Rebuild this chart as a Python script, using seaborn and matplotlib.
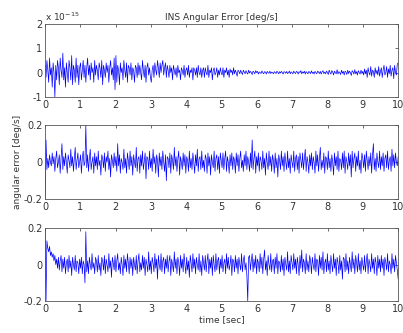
import numpy as np
import matplotlib
matplotlib.use("Agg")
import matplotlib.pyplot as plt
import seaborn as sns

# INS angular error, top panel (units of 1e-15 deg/s)
ins_err_e15 = [
    .3,-.2,.5,.1,-.4,.6,-.1,.2,-.6,.4,.0,-1.0,.3,-.3,.5,.2,-.5,.6,.1,-.2,
    .8,-.3,.2,-.6,.4,.0,-.4,.5,.2,-.3,.7,-.5,.3,.1,-.4,.6,-.2,.3,-.5,.2,
    .4,-.3,.1,.5,-.2,.3,-.4,.2,.6,-.1,.3,-.3,.4,.0,.2,-.4,.5,-.1,.3,.1,
    -.3,.4,.2,-.2,.5,-.5,.3,.1,-.2,.4,.0,.3,-.4,.2,.5,-.1,.2,-.3,.6,-.7,
    .7,-.4,.3,.1,-.5,.4,.0,.2,-.3,.5,.1,-.2,.4,-.4,.3,.2,-.1,.4,-.3,.2,
    .1,-.4,.3,.2,-.2,.4,-.1,.3,.0,-.3,.5,.1,-.2,.3,-.4,.2,.4,-.1,.2,-.2,
    -.4,.1,.3,-.2,.4,.1,-.1,.5,.2,-.2,.4,.0,.3,.5,-.1,.2,.4,-.2,.3,.1,
    -.2,.3,.0,.2,-.3,.3,.1,-.1,.2,-.2,.3,.0,.1,-.3,.2,.1,-.1,.3,-.2,.1,
    .2,-.1,.3,-.2,.1,.0,.2,-.3,.2,.1,-.1,.2,-.2,.3,.0,-.1,.2,-.2,.1,.2,
    -.2,.2,.0,-.1,.3,-.2,.1,.0,.2,-.3,.1,.2,-.1,.0,.2,-.2,.1,-.1,.2,.0,
    -.1,.2,-.2,.1,.0,.2,-.1,.1,-.2,.15,.0,.1,-.1,.2,-.05,.1,.0,-.15,.1,.05,
    -.05,.1,.0,-.08,.1,.02,-.05,.08,.0,-.06,.1,-.02,.05,.0,-.08,.06,.02,-.05,.08,.0,
    .05,-.06,.03,.0,-.04,.07,.0,-.05,.04,.02,-.06,.05,.0,-.03,.06,-.04,.02,.0,-.05,.04,
    .0,-.04,.06,.01,-.05,.04,-.02,.05,.0,-.06,.04,.02,-.03,.05,-.04,.0,.06,-.05,.03,.0,
    -.05,.06,.0,-.04,.05,.02,-.06,.04,.0,.08,-.05,.03,-.02,.06,-.06,.04,.0,-.05,.05,.01,
    -.04,.07,-.03,.02,-.06,.05,.0,-.05,.06,.02,-.04,.05,-.06,.03,.08,-.04,.02,-.05,.06,.0,
    -.08,.1,.0,-.06,.08,.03,-.1,.06,.0,-.05,.12,-.06,.04,.0,-.08,.1,-.03,.05,-.1,.06,
    .02,-.08,.1,-.04,.06,.0,-.12,.08,.03,-.06,.12,-.05,.04,-.1,.08,.0,-.06,.1,-.04,.05,
    -.1,.15,-.05,.1,-.2,.2,.0,-.1,.25,-.15,.1,.05,-.2,.2,-.05,.1,-.1,.25,-.15,.05,
    .2,-.2,.1,.3,-.1,.0,.25,-.2,.15,-.05,.3,-.15,.1,.2,-.25,.3,.0,-.1,.35,.4,
]

# middle panel (deg/s)
ang_err_mid = [
    -.2,.12,-.04,.02,-.03,.04,.0,-.02,.05,-.01,.03,-.05,.02,.06,-.03,.0,.04,-.06,.02,.1,
    -.04,.03,-.02,.05,.0,-.06,.04,.01,-.03,.07,-.02,.03,-.05,.02,.08,-.04,.01,.05,-.03,.0,
    .04,-.06,.02,.06,-.02,.0,.2,-.03,.04,-.05,.02,.07,-.04,.0,.03,-.06,.05,-.02,.03,-.04,
    .06,-.02,.01,-.07,.04,.02,-.03,.05,-.05,.03,.0,.06,-.04,.02,-.08,.04,.01,-.03,.05,-.02,
    .03,-.05,.1,-.02,.04,-.06,.02,.0,-.04,.07,-.03,.02,-.06,.05,.01,-.04,.06,-.02,.03,-.07,
    .04,.0,-.03,.08,-.05,.02,.03,-.06,.04,-.02,.06,-.04,.0,.05,-.09,.03,.02,-.04,.06,-.03,
    .02,-.05,.07,-.01,.03,-.06,.04,.01,-.08,.05,-.02,.03,-.04,.06,.0,-.05,.04,-.1,.03,.02,
    -.03,.05,-.06,.04,.01,-.04,.08,-.02,.03,-.05,.02,.06,-.07,.03,.0,-.04,.05,-.02,.04,-.06,
    .03,.01,-.05,.06,-.03,.02,-.04,.05,.0,-.06,.04,-.02,.07,-.05,.02,.03,-.04,.06,-.03,.01,
    -.05,.04,.02,-.06,.05,-.02,.03,-.07,.04,.0,-.03,.06,-.05,.02,.04,-.04,.03,-.06,.05,.01,
    -.03,.05,-.04,.02,.06,-.05,.03,.0,-.06,.04,-.02,.05,-.04,.03,.01,-.06,.05,-.02,.04,-.05,
    .02,.06,-.03,.01,-.05,.04,-.02,.06,-.04,.03,.0,-.05,.05,-.03,.12,-.04,.02,.06,-.06,.03,
    -.02,.05,-.05,.03,.01,-.04,.06,-.03,.02,-.07,.05,.0,-.04,.06,-.02,.03,-.05,.04,.01,-.06,
    .05,-.03,.02,-.08,.04,.01,-.04,.06,-.02,.03,-.05,.05,.0,-.04,.06,-.03,.02,-.06,.04,.0,
    -.03,.06,-.05,.02,.04,-.04,.03,-.06,.05,.01,-.03,.05,-.04,.02,.07,-.05,.03,.0,-.06,.04,
    -.02,.05,-.04,.03,.0,-.06,.06,-.02,.04,-.05,.02,.08,-.04,.01,-.03,.05,-.06,.03,.02,-.04,
    .06,-.03,.02,-.05,.04,.0,-.07,.05,-.02,.03,-.04,.06,-.05,.02,.01,-.04,.05,-.03,.06,-.06,
    .03,.0,-.04,.05,-.02,.04,-.08,.06,-.03,.02,.05,-.05,.03,-.02,.06,-.04,.01,-.06,.05,.02,
    -.03,.04,-.05,.06,.01,-.04,.03,-.02,.05,-.06,.04,.1,-.04,.02,-.05,.05,.0,-.03,.06,-.04,
    .03,-.02,.05,-.05,.02,.04,-.03,.06,-.04,.01,.03,-.05,.07,-.02,.04,-.03,.05,.0,-.02,.03,
]

# bottom panel (deg/s)
ang_err_bot = [
    .2,-.2,.13,.09,.07,.1,.05,.07,.04,.06,.02,.05,.0,.03,-.02,.04,-.03,.02,.05,-.04,
    .03,-.02,.04,-.05,.01,.03,-.04,.05,-.02,.02,-.06,.04,.0,-.03,.05,-.04,.02,.01,-.05,.03,
    -.02,.04,-.05,.02,.0,-.1,.18,-.04,.02,-.05,.04,.0,-.03,.06,-.02,.01,-.05,.04,.02,-.04,
    .05,-.03,.01,-.06,.04,.02,-.03,.05,-.05,.03,.0,-.04,.06,-.02,.02,-.07,.04,.01,-.03,.05,
    -.04,.02,.06,-.03,.01,-.05,.04,.0,-.06,.05,-.02,.03,-.04,.06,.01,-.05,.04,-.02,.03,-.06,
    .04,.0,-.03,.05,-.05,.02,.06,-.04,.01,-.03,.05,-.02,.04,-.06,.03,.0,-.04,.07,-.03,.02,
    -.05,.04,.01,-.04,.06,-.02,.03,-.08,.05,.0,-.03,.06,-.04,.02,.04,-.05,.03,-.02,.05,-.04,
    .02,.05,-.06,.03,.0,-.04,.07,-.02,.03,-.05,.04,.01,-.06,.05,-.02,.03,-.04,.06,.0,-.05,
    .04,-.03,.02,-.07,.05,.01,-.04,.06,-.02,.03,-.05,.04,.0,-.03,.06,-.04,.02,-.06,.05,.01,
    -.03,.05,-.04,.02,.06,-.05,.03,-.02,.04,-.06,.05,.0,-.04,.06,-.03,.02,.04,-.05,.03,-.02,
    .05,-.04,.01,.03,-.05,.06,-.02,.04,-.03,.0,.05,-.06,.03,.02,-.04,.05,-.02,.03,-.05,.04,
    .0,-.03,.06,-.04,.02,.05,-.03,.01,-.06,-.2,.04,.05,-.03,.02,.06,-.04,.03,-.02,.05,-.05,
    .03,.01,-.04,.06,-.02,.04,-.05,.03,.08,-.03,.02,-.06,.05,.0,-.03,.06,-.04,.02,.03,-.05,
    .04,-.02,.06,-.05,.02,.01,-.04,.05,-.03,.03,-.06,.04,.0,-.03,.07,-.04,.02,-.05,.05,.01,
    -.03,.06,-.02,.03,-.05,.04,.0,-.06,.05,-.02,.08,-.04,.03,.01,-.05,.06,-.03,.02,-.04,.05,
    .02,-.05,.04,.0,-.03,.06,-.04,.03,.02,-.06,.05,-.02,.04,-.03,.07,-.05,.01,.03,-.04,.06,
    -.03,.02,-.05,.05,.0,-.04,.06,-.02,.03,-.06,.04,.01,-.05,.05,-.03,.02,-.08,.04,.03,-.04,
    .06,-.03,.02,-.05,.04,.0,-.04,.07,-.02,.03,-.05,.05,.01,-.04,.06,-.03,.02,-.05,.04,.0,
    -.03,.05,-.04,.02,.06,-.05,.03,.0,-.04,.06,-.02,.03,-.05,.04,.01,-.06,.05,-.02,.03,-.04,
    .05,-.02,.03,-.06,.04,.01,-.03,.06,-.04,.02,.0,-.05,.06,-.02,.03,-.04,.05,.01,-.03,-.08,
]

t_start, t_end = 0.0, 10.0
x_ticks = [0, 1, 2, 3, 4, 5, 6, 7, 8, 9, 10]
top_yticks = [-1, 0, 1, 2]
lower_yticks = [-0.2, 0, 0.2]
lower_yticklabels = ["-0.2", "0", "0.2"]

sns.set_style("white")
plt.rcParams['font.family'] = ['DejaVu Sans']

fig = plt.figure(figsize=(4.03, 3.33), dpi=100)
left, width = 0.112, 0.876
ax1 = fig.add_axes([left, 0.709, width, 0.219])
ax2 = fig.add_axes([left, 0.402, width, 0.222])
ax3 = fig.add_axes([left, 0.096, width, 0.219])

series = [ins_err_e15, ang_err_mid, ang_err_bot]
for ax, vals in zip([ax1, ax2, ax3], series):
    t = np.linspace(t_start, t_end, len(vals))
    sns.lineplot(x=t, y=vals, ax=ax, color=(0, 0, 1), linewidth=0.5)
    ax.set_xlim(t_start, t_end)
    ax.set_xticks(x_ticks)
    ax.set_xticklabels([str(v) for v in x_ticks])
    ax.tick_params(direction='in', length=2.5, width=0.5, labelsize=7,
                   colors='#333333', top=True, right=True, pad=2)
    for s in ax.spines.values():
        s.set_color('#555555')
        s.set_linewidth(0.6)
    ax.set_xlabel("")
    ax.set_ylabel("")

ax1.set_ylim(-1, 2)
ax1.set_yticks(top_yticks)
ax1.set_yticklabels([str(v) for v in top_yticks])
ax1.set_title("INS Angular Error [deg/s]", fontsize=6.5, color='#333333', pad=3)
ax1.text(0.0, 1.02, r"x 10$^{-15}$", transform=ax1.transAxes, fontsize=6.5,
         color='#333333', ha='left', va='bottom')

for ax in (ax2, ax3):
    ax.set_ylim(-0.2, 0.2)
    ax.set_yticks(lower_yticks)
    ax.set_yticklabels(lower_yticklabels)

ax2.set_ylabel("angular error [deg/s]", fontsize=6.5, color='#333333', labelpad=1)
ax3.set_xlabel("time [sec]", fontsize=6.5, color='#333333', labelpad=1)

fig.savefig("out.png", dpi=100)
